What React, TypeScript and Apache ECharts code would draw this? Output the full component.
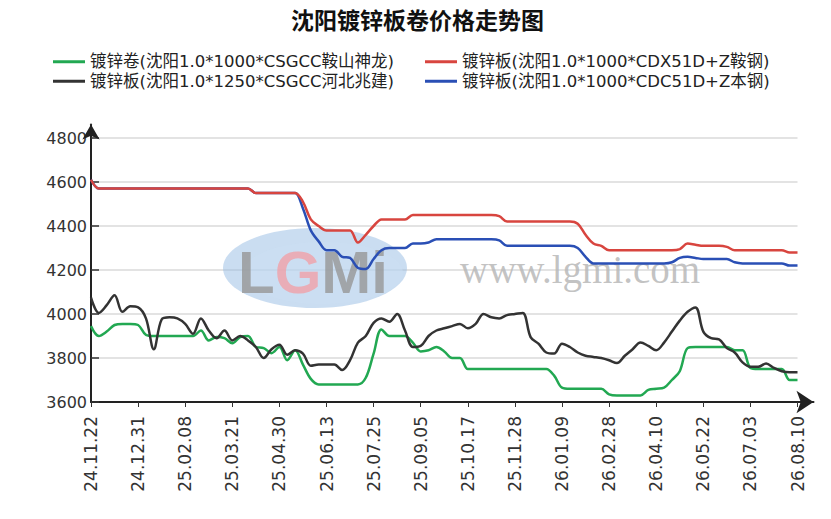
import React, { useEffect, useRef } from 'react';
import * as echarts from 'echarts';

const tickLabels = [
  '24.11.22', '24.12.31', '25.02.08', '25.03.21', '25.04.30', '25.06.13', '25.07.25', '25.09.05',
  '25.10.17', '25.11.28', '26.01.09', '26.02.28', '26.04.10', '26.05.22', '26.07.03', '26.08.10',
];
const STEPS_PER_LABEL = 6;

const seriesNames = [
  '镀锌卷(沈阳1.0*1000*CSGCC鞍山神龙)',
  '镀锌板(沈阳1.0*1000*CDX51D+Z鞍钢)',
  '镀锌板(沈阳1.0*1250*CSGCC河北兆建)',
  '镀锌板(沈阳1.0*1000*CDC51D+Z本钢)',
];

const greenValues = [
  3945, 3900, 3920, 3950, 3955, 3955, 3950, 3905, 3900, 3900,
  3900, 3900, 3900, 3900, 3925, 3880, 3895, 3890, 3867, 3895,
  3900, 3850, 3845, 3822, 3850, 3790, 3835, 3770, 3705, 3680,
  3680, 3680, 3680, 3680, 3680, 3710, 3820, 3930, 3900, 3900,
  3900, 3870, 3830, 3835, 3850, 3830, 3800, 3800, 3750, 3750,
  3750, 3750, 3750, 3750, 3750, 3750, 3750, 3750, 3750, 3720,
  3665, 3660, 3660, 3660, 3660, 3660, 3635, 3630, 3630, 3630,
  3630, 3655, 3660, 3665, 3700, 3740, 3845, 3850, 3850, 3850,
  3850, 3850, 3835, 3835, 3755, 3750, 3750, 3750, 3750, 3700,
  3700,
];

const redValues = [
  4610, 4570, 4570, 4570, 4570, 4570, 4570, 4570, 4570, 4570,
  4570, 4570, 4570, 4570, 4570, 4570, 4570, 4570, 4570, 4570,
  4570, 4550, 4550, 4550, 4550, 4550, 4550, 4510, 4430, 4400,
  4380, 4380, 4380, 4380, 4325, 4360, 4400, 4430, 4430, 4430,
  4430, 4450, 4450, 4450, 4450, 4450, 4450, 4450, 4450, 4450,
  4450, 4450, 4445, 4420, 4420, 4420, 4420, 4420, 4420, 4420,
  4420, 4420, 4410, 4360, 4320, 4310, 4290, 4290, 4290, 4290,
  4290, 4290, 4290, 4290, 4290, 4295, 4320, 4315, 4310, 4310,
  4310, 4305, 4290, 4290, 4290, 4290, 4290, 4290, 4290, 4280,
  4280,
];

const blackValues = [
  4075, 4005, 4040, 4085, 4010, 4035, 4030, 3980, 3840, 3975,
  3985, 3980, 3955, 3910, 3980, 3925, 3890, 3925, 3880, 3900,
  3880, 3850, 3800, 3840, 3860, 3815, 3835, 3820, 3765, 3770,
  3770, 3770, 3745, 3790, 3870, 3900, 3960, 3980, 3965, 4000,
  3925, 3850, 3855, 3900, 3925, 3935, 3945, 3955, 3935, 3955,
  4000, 3985, 3980, 3995, 4000, 4005, 3895, 3865, 3825, 3820,
  3865, 3850, 3825, 3810, 3805, 3800, 3790, 3777, 3810, 3840,
  3870, 3855, 3835, 3870, 3920, 3970, 4010, 4030, 3920, 3890,
  3885, 3845, 3825, 3780, 3760, 3760, 3775, 3755, 3740, 3735,
  3735,
];

const blueValues = [
  4610, 4570, 4570, 4570, 4570, 4570, 4570, 4570, 4570, 4570,
  4570, 4570, 4570, 4570, 4570, 4570, 4570, 4570, 4570, 4570,
  4570, 4550, 4550, 4550, 4550, 4550, 4550, 4480, 4380, 4330,
  4290, 4290, 4260, 4255, 4210, 4205, 4250, 4290, 4300, 4300,
  4300, 4320, 4320, 4325, 4340, 4340, 4340, 4340, 4340, 4340,
  4340, 4340, 4335, 4310, 4310, 4310, 4310, 4310, 4310, 4310,
  4310, 4310, 4300, 4260, 4230, 4230, 4230, 4230, 4230, 4230,
  4230, 4230, 4230, 4230, 4235, 4255, 4260, 4255, 4250, 4250,
  4250, 4250, 4235, 4230, 4230, 4230, 4230, 4230, 4230, 4220,
  4220,
];

const colors = ['#22a852', '#d8453f', '#333333', '#2a4fb5'];

const categories = greenValues.map((_, i) =>
  i % STEPS_PER_LABEL === 0 ? tickLabels[i / STEPS_PER_LABEL] : ''
);

const LATIN = '"DejaVu Sans", "Noto Sans CJK SC", sans-serif';
const CJK = '"Noto Sans CJK SC", "DejaVu Sans", sans-serif';

export default function App() {
  const ref = useRef<HTMLDivElement>(null);

  useEffect(() => {
    if (!ref.current) return;
    const chart = echarts.init(ref.current, null, { renderer: 'svg' });
    const legendText = { fontSize: 16.5, lineHeight: 19.5, color: '#222', fontFamily: LATIN };
    const legendBase = {
      orient: 'vertical',
      top: 52,
      itemGap: 0,
      itemWidth: 32,
      itemHeight: 3,
      icon: 'rect',
      padding: 0,
      textStyle: legendText,
    };
    const seriesData = [greenValues, redValues, blackValues, blueValues];
    const zOrder = [3, 4, 3, 2];
    chart.setOption({
      animation: false,
      backgroundColor: '#ffffff',
      title: {
        text: '沈阳镀锌板卷价格走势图',
        left: 291,
        top: 6,
        padding: 0,
        textStyle: { fontSize: 23, lineHeight: 26, fontWeight: 'bold', color: '#111', fontFamily: CJK },
      },
      legend: [
        { ...legendBase, left: 53, data: [seriesNames[0], seriesNames[2]] },
        { ...legendBase, left: 425, data: [seriesNames[1], seriesNames[3]] },
      ],
      grid: [
        { left: 91, right: 33.5, top: 138, bottom: 117 },
        { left: 91, right: 17.5, top: 124.5, bottom: 117 },
      ],
      xAxis: [
        {
          type: 'category',
          gridIndex: 0,
          data: categories,
          boundaryGap: false,
          axisLine: { show: false },
          axisTick: { show: true, interval: STEPS_PER_LABEL - 1, length: 5, lineStyle: { color: '#333', width: 1 } },
          axisLabel: {
            interval: STEPS_PER_LABEL - 1,
            rotate: 90,
            margin: 14,
            fontSize: 17,
            color: '#333',
            fontFamily: LATIN,
          },
          splitLine: { show: false },
        },
        {
          type: 'value',
          gridIndex: 1,
          min: 0,
          max: 1,
          axisLine: {
            show: true,
            onZero: false,
            symbol: ['none', 'arrow'],
            symbolSize: [17, 17],
            lineStyle: { color: '#222', width: 2 },
          },
          axisTick: { show: false },
          axisLabel: { show: false },
          splitLine: { show: false },
        },
      ],
      yAxis: [
        {
          type: 'value',
          gridIndex: 0,
          min: 3600,
          max: 4800,
          interval: 200,
          axisLine: { show: false },
          axisTick: { show: true, inside: true, length: 8, lineStyle: { color: '#333', width: 1.5 } },
          axisLabel: {
            margin: 4,
            fontSize: 16,
            color: '#333',
            fontFamily: LATIN,
            formatter: (v: number) => String(v),
          },
          splitLine: { show: true, lineStyle: { color: '#dadada', width: 1.5 } },
        },
        {
          type: 'value',
          gridIndex: 1,
          min: 0,
          max: 1,
          axisLine: {
            show: true,
            onZero: false,
            symbol: ['none', 'arrow'],
            symbolSize: [13, 15],
            lineStyle: { color: '#222', width: 2 },
          },
          axisTick: { show: false },
          axisLabel: { show: false },
          splitLine: { show: false },
        },
      ],
      graphic: [
        {
          type: 'ellipse',
          z: 1,
          silent: true,
          shape: { cx: 315, cy: 268, rx: 92, ry: 40 },
          style: { fill: 'rgba(150,188,228,0.5)' },
        },
        {
          type: 'ellipse',
          z: 1,
          silent: true,
          shape: { cx: 323, cy: 273, rx: 80, ry: 31 },
          style: { fill: 'rgba(205,225,245,0.45)' },
        },
        {
          type: 'text',
          z: 1,
          silent: true,
          x: 238,
          y: 242,
          style: {
            text: '{g|L}{p|G}{g|Mi}',
            rich: {
              g: { fontSize: 60, fontWeight: 'bold', fontFamily: '"Liberation Sans"', fill: 'rgba(150,150,150,0.8)' },
              p: { fontSize: 60, fontWeight: 'bold', fontFamily: '"Liberation Sans"', fill: 'rgba(240,160,168,0.8)' },
            },
          },
        },
        {
          type: 'text',
          z: 1,
          silent: true,
          x: 460,
          y: 250,
          style: { text: 'www.lgmi.com', font: '39px "Liberation Serif"', fill: 'rgba(185,185,185,0.85)' },
        },
      ],
      series: seriesData.map((values, k) => ({
        name: seriesNames[k],
        type: 'line',
        xAxisIndex: 0,
        yAxisIndex: 0,
        data: values,
        smooth: 0.35,
        symbol: 'none',
        z: zOrder[k],
        color: colors[k],
        lineStyle: { color: colors[k], width: 2.5 },
      })),
    });
    return () => chart.dispose();
  }, []);

  return (
    <div
      ref={ref}
      style={{ position: 'absolute', left: 0, top: 0, width: 831, height: 519, background: '#fff' }}
    />
  );
}
